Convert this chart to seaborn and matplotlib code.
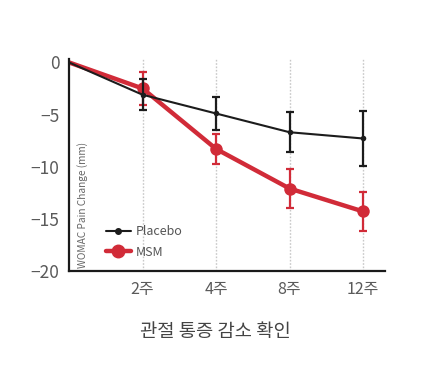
import matplotlib
matplotlib.use("Agg")
import matplotlib.pyplot as plt
import seaborn as sns
import pandas as pd
from matplotlib.lines import Line2D

weeks = ["", "2주", "4주", "8주", "12주"]
placebo_mean = [0, -3.1, -4.9, -6.7, -7.3]
placebo_err = [0, 1.5, 1.6, 1.9, 2.6]
msm_mean = [0, -2.5, -8.3, -12.1, -14.3]
msm_err = [0, 1.6, 1.4, 1.9, 1.9]
title = "관절 통증 감소 확인"
ylabel = "WOMAC Pain Change (mm)"

sns.set_style("white")
plt.rcParams['font.family'] = ['Noto Sans CJK KR', 'DejaVu Sans']

pos = list(range(len(weeks)))
df = pd.DataFrame({
    "pos": pos * 2,
    "value": placebo_mean + msm_mean,
    "group": ["Placebo"] * len(pos) + ["MSM"] * len(pos),
})

red = "#d12b38"
black = "#1c1c1c"

fig = plt.figure(figsize=(4.26, 3.66), dpi=100)
ax = fig.add_axes([0.162, 0.26, 0.742, 0.578])

for x in pos[1:]:
    ax.axvline(x, color="#c8c8c8", lw=1.0, ls=(0, (1.2, 1.2)), zorder=0)

sns.lineplot(data=df[df.group == "Placebo"], x="pos", y="value", ax=ax,
             color=black, lw=1.5, marker="o", markersize=4, markevery=[1, 2, 3, 4],
             markeredgewidth=0, zorder=3)
sns.lineplot(data=df[df.group == "MSM"], x="pos", y="value", ax=ax,
             color=red, lw=3.2, marker="o", markersize=9, markevery=[1, 2, 3, 4],
             markeredgewidth=0, zorder=2)
ax.errorbar(pos[1:], msm_mean[1:], yerr=msm_err[1:], fmt="none", ecolor=red,
            elinewidth=1.6, capsize=3, capthick=1.6, zorder=2)
ax.errorbar(pos[1:], placebo_mean[1:], yerr=placebo_err[1:], fmt="none", ecolor=black,
            elinewidth=1.6, capsize=3, capthick=1.6, zorder=3)

ax.set_xlim(0, 4.3)
ax.set_ylim(-20, 0.3)
ax.set_xticks(pos[1:])
ax.set_xticklabels(weeks[1:])
ax.set_yticks([0, -5, -10, -15, -20])
ax.set_yticklabels(["0", "\u22125", "\u221210", "\u221215", "\u221220"])
ax.tick_params(axis="both", length=0, labelcolor="#5a5a5a", labelsize=12.5)
ax.tick_params(axis="y", pad=7)
ax.tick_params(axis="x", pad=7, labelsize=11.5)
ax.set_xlabel("")
ax.set_ylabel("")
for s in ["top", "right"]:
    ax.spines[s].set_visible(False)
for s in ["left", "bottom"]:
    ax.spines[s].set_color("#1a1a1a")
    ax.spines[s].set_linewidth(1.6)

ax.text(0.025, 0.015, ylabel, transform=ax.transAxes, rotation=90, fontsize=7.3,
        color="#666666", ha="left", va="bottom")

handles = [Line2D([0], [0], color=black, lw=1.5, marker="o", markersize=4),
           Line2D([0], [0], color=red, lw=3.2, marker="o", markersize=9)]
ax.legend(handles, ["Placebo", "MSM"], loc="lower left", bbox_to_anchor=(0.08, 0.005),
          frameon=False, fontsize=9, labelcolor="#555555", handlelength=2.0,
          handletextpad=0.4, labelspacing=0.6)

fig.text(0.505, 0.095, title, ha="center", va="center", fontsize=13.5, color="#444444")

fig.savefig("out.png", dpi=100)
